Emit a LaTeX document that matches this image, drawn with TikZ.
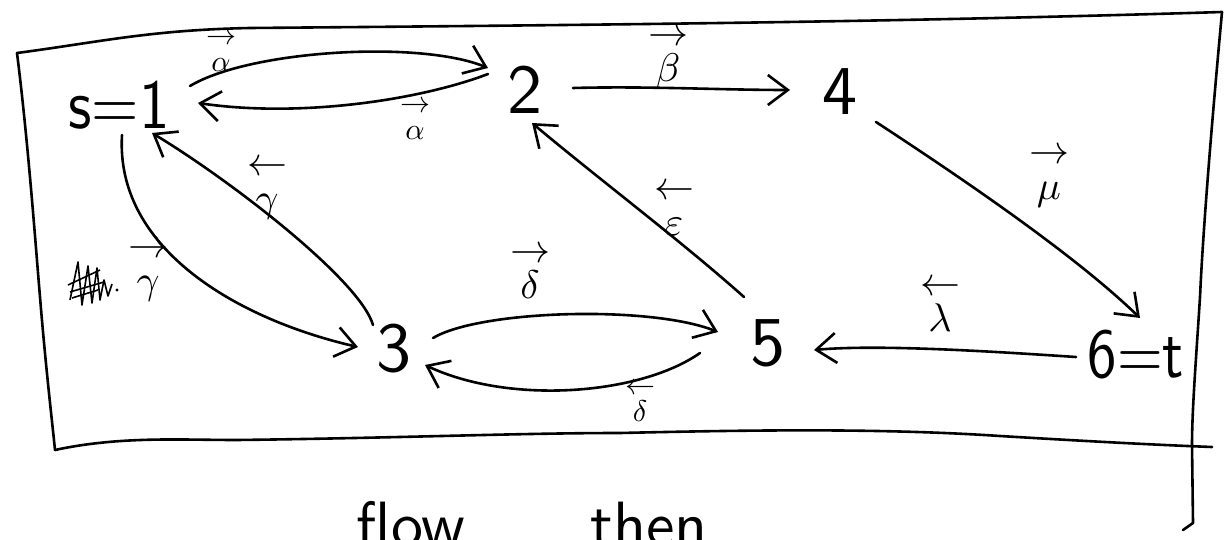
\documentclass[tikz,border=0pt]{standalone}
\usetikzlibrary{arrows.meta,calc}
\newcommand{\rvec}[1]{$\rightarrow$\\[-3pt]$#1$}
\newcommand{\lvec}[1]{$\leftarrow$\\[-3pt]$#1$}
\tikzset{
  nd/.style={font=\sffamily, scale=7, inner sep=0pt},
  lbl/.style={scale=4.0, inner sep=0pt, align=center},
  smalllbl/.style={scale=3.0, inner sep=0pt, align=center},
  conn/.style={line width=2.6pt, line cap=round, line join=round,
    -{Straight Barb[length=20pt,width=30pt,line width=2.6pt]}},
  framepath/.style={line width=2.6pt, line cap=round, line join=round},
  handtext/.style={font=\sffamily, scale=6.4, inner sep=0pt, anchor=base},
}
\begin{document}
\begin{tikzpicture}[x=1pt,y=-1pt]
\fill[white] (0,0) rectangle (1226,540);
\useasboundingbox (0,0) rectangle (1226,540);

% frame
\draw[framepath] (17,53) .. controls (100,42) and (150,30) .. (250,28)
  .. controls (600,25) and (900,22) .. (1222,12);
\draw[framepath] (17,53) .. controls (28,140) and (36,250) .. (40,297)
  .. controls (46,370) and (52,420) .. (55,450);
\draw[framepath] (55,450) .. controls (120,436) and (180,440) .. (237,440)
  .. controls (400,438) and (520,433) .. (620,433)
  .. controls (750,430) and (880,428) .. (1000,436)
  .. controls (1100,442) and (1160,445) .. (1212,447);
\draw[framepath] (1222,12) .. controls (1212,120) and (1203,230) .. (1200,297)
  .. controls (1196,360) and (1192,410) .. (1192,445)
  -- (1193,523) -- (1183,530);

% nodes
\node[nd, xscale=0.87] (n1) at (119,105) {s=1};
\node[nd] (n2) at (525,90) {2};
\node[nd] (n4) at (840,92) {4};
\node[nd] (n3) at (394,349) {3};
\node[nd] (n5) at (768,343) {5};
\node[nd, xscale=0.84] (n6) at (1136,355) {6=t};

% connectors
\draw[conn] ($(n1)+(71,-19)$) .. controls (250,50) and (420,40) .. ($(n2)+(-37,-22)$);
\draw[conn] ($(n2)+(-37,-16)$) .. controls (420,100) and (300,118) .. ($(n1)+(79,-2)$);
\draw[conn] ($(n2)+(48,-2)$) .. controls (650,86) and (720,90) .. ($(n4)+(-50,-2)$);
\draw[conn] ($(n4)+(36,30)$) .. controls (980,190) and (1080,260) .. ($(n6)+(4,-37)$);
\draw[conn] ($(n6)+(-60,2)$) .. controls (1000,352) and (880,344) .. ($(n5)+(46,7)$);
\draw[conn] ($(n5)+(-24,-46)$) .. controls (680,240) and (600,180) .. ($(n2)+(7,33)$);
\draw[conn] ($(n3)+(-21,-24)$) .. controls (360,280) and (230,180) .. ($(n1)+(33,28)$);
\draw[conn] ($(n1)+(3,30)$) .. controls (115,250) and (240,320) .. ($(n3)+(-36,-2)$);
\draw[conn] ($(n3)+(39,-11)$) .. controls (480,310) and (650,305) .. ($(n5)+(-50,-11)$);
\draw[conn] ($(n5)+(-68,10)$) .. controls (640,395) and (510,405) .. ($(n3)+(31,16)$);

% labels
\node[smalllbl] (la1) at (221,52) {\rvec{\alpha}};
\node[smalllbl] (la2) at (415,120) {\rvec{\alpha}};
\node[lbl] (lb) at (668,60) {\rvec{\beta}};
\node[lbl] (lm) at (1049,178) {\rvec{\mu}};
\node[lbl] (ll) at (940,306) {\lvec{\lambda}};
\node[lbl] (le) at (674,210) {\lvec{\varepsilon}};
\node[lbl] (lg1) at (267,190) {\lvec{\gamma}};
\node[lbl] (lg2) at (148,272) {\rvec{\gamma}};
\node[lbl] (ld1) at (530,273) {\rvec{\delta}};
\node[smalllbl] (ld2) at (640,402) {\lvec{\delta}};

% scribbled-out word
\draw[line width=1.6pt, line join=round]
  (70,300) -- (78,262) -- (82,305) -- (88,266) -- (92,303) -- (97,268)
  -- (100,300) -- (104,280) -- (108,296) -- (112,284);
\draw[line width=1.6pt] (68,285) -- (100,270) (70,292) -- (104,282) (72,298) -- (98,290);
\fill (117,290) circle (1.6pt);

% cut-off text at the bottom
\begin{scope}
\clip (0,0) rectangle (1226,540);
\node[handtext] (tflow) at (411,546) {flow};
\node[handtext] (tthen) at (649,546) {then};
\end{scope}
\end{tikzpicture}
\end{document}
